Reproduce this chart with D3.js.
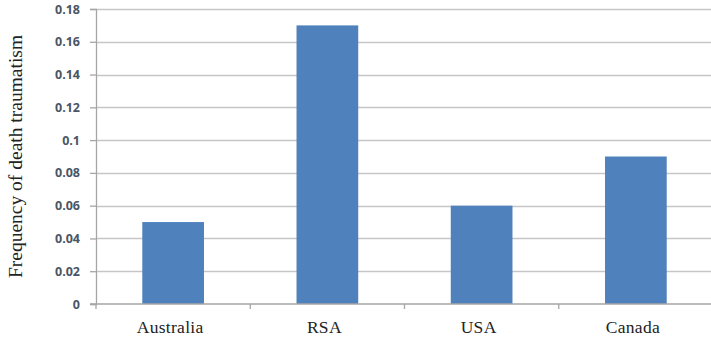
<!DOCTYPE html>
<html>
<head>
<meta charset="utf-8">
<script src="https://cdn.jsdelivr.net/npm/d3@7/dist/d3.min.js"></script>
<style>
  html, body { margin: 0; padding: 0; background: #fff; }
  svg { display: block; }
</style>
</head>
<body>
<svg id="chart" width="711" height="337"></svg>
<script>
// Frequency of death traumatism by country
const countries = ["Australia", "RSA", "USA", "Canada"];
const frequency = [0.05, 0.17, 0.06, 0.09];
const yTicks = [0, 0.02, 0.04, 0.06, 0.08, 0.1, 0.12, 0.14, 0.16, 0.18];
const yTitle = "Frequency of death traumatism";

const svg = d3.select("#chart");
const margin = { left: 96, right: -2, top: 9, bottom: 33 };
const W = 711, H = 337;

const x = d3.scaleBand()
  .domain(countries)
  .range([margin.left, W - margin.right])
  .paddingInner(0.6)
  .paddingOuter(0.3);

const y = d3.scaleLinear()
  .domain([0, 0.18])
  .range([H - margin.bottom, margin.top]);

// horizontal gridlines
svg.append("g")
  .selectAll("line")
  .data(yTicks.slice(1))
  .join("line")
  .attr("x1", margin.left)
  .attr("x2", W)
  .attr("y1", d => Math.round(y(d)) + 0.5)
  .attr("y2", d => Math.round(y(d)) + 0.5)
  .attr("stroke", "#c6c6c6")
  .attr("stroke-width", 1.6);

// bars
svg.append("g")
  .selectAll("rect")
  .data(countries)
  .join("rect")
  .attr("x", d => x(d))
  .attr("width", x.bandwidth())
  .attr("y", (d, i) => y(frequency[i]))
  .attr("height", (d, i) => y(0) - y(frequency[i]))
  .attr("fill", "#4f81bd");

// y axis
const yAxis = svg.append("g")
  .attr("transform", `translate(${margin.left},0)`)
  .call(d3.axisLeft(y).tickValues(yTicks).tickSize(6).tickPadding(10)
    .tickFormat(d => String(+d.toFixed(2))));
yAxis.select(".domain").attr("stroke", "#a6a6a6").attr("stroke-width", 1.3);
yAxis.selectAll(".tick line").attr("stroke", "#a6a6a6").attr("stroke-width", 1.3);
yAxis.selectAll(".tick text")
  .attr("fill", "#4a5565")
  .attr("font-family", "'Open Sans', 'DejaVu Sans', sans-serif")
  .attr("font-weight", "bold")
  .attr("font-size", 12.5);

// x axis with tick marks between categories
const xAxisG = svg.append("g")
  .attr("transform", `translate(0,${y(0)})`);
xAxisG.append("line")
  .attr("x1", margin.left - 6).attr("x2", W)
  .attr("y1", 0).attr("y2", 0)
  .attr("stroke", "#a6a6a6").attr("stroke-width", 1.3);
const step = x.step();
const boundaries = d3.range(countries.length).map(i => margin.left + i * step);
xAxisG.selectAll("line.sep")
  .data(boundaries)
  .join("line")
  .attr("class", "sep")
  .attr("x1", d => d).attr("x2", d => d)
  .attr("y1", 0).attr("y2", 5)
  .attr("stroke", "#a6a6a6").attr("stroke-width", 1.3);
xAxisG.selectAll("text")
  .data(countries)
  .join("text")
  .attr("x", d => x(d) + x.bandwidth() / 2 - 3)
  .attr("y", 29)
  .attr("text-anchor", "middle")
  .attr("font-family", "'Liberation Serif', 'Times New Roman', serif")
  .attr("font-size", 17.5)
  .attr("letter-spacing", 0.3)
  .attr("fill", "#222")
  .text(d => d);

// y axis title
svg.append("text")
  .attr("transform", `translate(22,${(y(0) + y(0.18)) / 2}) rotate(-90)`)
  .attr("text-anchor", "middle")
  .attr("font-family", "'Liberation Serif', 'Times New Roman', serif")
  .attr("font-size", 19.5)
  .attr("fill", "#222")
  .text(yTitle);
</script>
</body>
</html>
